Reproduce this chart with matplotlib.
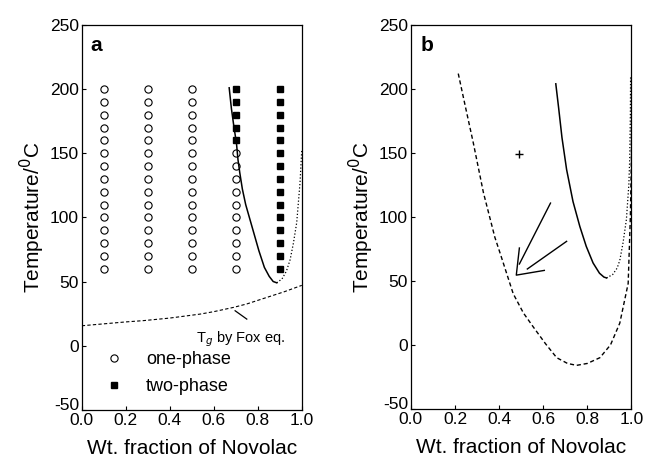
import matplotlib
matplotlib.use("Agg")
import matplotlib.pyplot as plt
import matplotlib.transforms as mtransforms
import numpy as np

plt.rcParams['font.family'] = ['Liberation Sans', 'DejaVu Sans']
plt.rcParams['axes.unicode_minus'] = False

# panel a: cloud point observations
comp_x = [0.1, 0.3, 0.5, 0.7, 0.9]
temps = list(range(60, 210, 10))
# temperatures where each composition was two-phase
two_phase_T = {0.1: [], 0.3: [], 0.5: [], 0.7: [160, 170, 180, 190, 200],
               0.9: list(range(60, 210, 10))}

# binodal (solid) and its dotted continuation, panel a
binod_a_x = [0.670, 0.680, 0.692, 0.703, 0.710, 0.718, 0.730, 0.745, 0.765, 0.785,
             0.805, 0.830, 0.852, 0.870, 0.886]
binod_a_T = [201, 185, 170, 158, 145, 135, 122, 110, 98, 86, 74, 61, 54, 50, 49]
binod_a_dot_x = [0.886, 0.910, 0.930, 0.947, 0.962, 0.977, 0.992, 1.0]
binod_a_dot_T = [49, 52, 58, 67, 80, 96, 127, 153]

# Tg by Fox equation
tg_x = [0.0, 0.1, 0.2, 0.28, 0.4, 0.538, 0.6, 0.689, 0.75, 0.841, 0.92, 1.0]
tg_T = [15.5, 17, 18.5, 19.5, 21.5, 24.6, 26.5, 29.8, 32.5, 37.6, 42, 47]

# panel b: spinodal (dashed)
spin_x = [0.215, 0.250, 0.283, 0.329, 0.381, 0.404, 0.464, 0.510, 0.555, 0.610, 0.661,
          0.710, 0.751, 0.800, 0.857, 0.905, 0.947, 0.985, 0.995, 1.0, 1.0]
spin_T = [212, 184, 158, 119, 84, 72, 40, 25, 14, 1, -10, -14.5, -16, -14.5, -10, 0,
          17, 48, 100, 150, 208]

# panel b: binodal (solid) + dotted continuation
binod_b_x = [0.657, 0.670, 0.685, 0.706, 0.735, 0.766, 0.795, 0.826, 0.855, 0.875, 0.887]
binod_b_T = [204, 185, 162, 137, 112, 92.5, 77, 64, 56, 53, 52.3]
binod_b_dot_x = [0.887, 0.915, 0.935, 0.947, 0.962, 0.977, 0.988, 0.992, 0.995, 0.996]
binod_b_dot_T = [52.3, 55, 60, 66, 80, 98, 125, 145, 180, 210]

fig = plt.figure(figsize=(6.49, 4.62), dpi=100)
ax1 = fig.add_axes([0.126, 0.113, 0.339, 0.833])
ax2 = fig.add_axes([0.633, 0.115, 0.340, 0.831])

for ax in (ax1, ax2):
    ax.set_xlim(0, 1.0)
    ax.set_ylim(-50, 250)
    ax.set_xticks(np.arange(0, 1.01, 0.2))
    ax.set_yticks(range(-50, 251, 50))
    ax.set_xticklabels(['0.0', '0.2', '0.4', '0.6', '0.8', '1.0'])
    ax.tick_params(direction='in', length=3, width=0.8, labelsize=12.5, pad=2)
    ax.set_xlabel('Wt. fraction of Novolac', fontsize=15, labelpad=8)
    ax.set_ylabel('Temperature/$^{0}$C', fontsize=15, labelpad=2)
    for s in ax.spines.values():
        s.set_linewidth(0.9)
    # nudge the bottom y label up a bit so it doesn't sit on top of "0.0"
    lab = ax.yaxis.get_major_ticks()[0].label1
    lab.set_transform(lab.get_transform() +
                      mtransforms.ScaledTranslation(0, 4 / 72, fig.dpi_scale_trans))

# panel a
one_x, one_T, two_x, two_T = [], [], [], []
for x in comp_x:
    for t in temps:
        if t in two_phase_T[x]:
            two_x.append(x); two_T.append(t)
        else:
            one_x.append(x); one_T.append(t)
ax1.plot(one_x, one_T, 'o', mfc='white', mec='black', ms=5.2, mew=0.8, ls='none',
         label='one-phase')
ax1.plot(two_x, two_T, 's', color='black', ms=4.5, ls='none', label='two-phase')
ax1.plot(binod_a_x, binod_a_T, '-', color='black', lw=1.1)
ax1.plot(binod_a_dot_x, binod_a_dot_T, ':', color='black', lw=0.9)
ax1.plot(tg_x, tg_T, '--', color='black', lw=0.8, dashes=(3, 2))
ax1.plot([0.75, 0.697], [20.7, 27.2], '-', color='black', lw=0.9)
ax1.text(0.72, 5, 'T$_g$ by Fox eq.', fontsize=10.5, ha='center', va='center')
ax1.text(0.04, 234, 'a', fontsize=15, fontweight='bold', va='center')
ax1.legend(loc='lower left', bbox_to_anchor=(0.02, 0.0), frameon=False, fontsize=13,
           handletextpad=1.0, handlelength=1.5, borderaxespad=0.4, labelspacing=0.55)

# panel b
ax2.plot(spin_x, spin_T, '--', color='black', lw=1.0, dashes=(3, 2))
ax2.plot(binod_b_x, binod_b_T, '-', color='black', lw=1.1)
ax2.plot(binod_b_dot_x, binod_b_dot_T, ':', color='black', lw=0.9)
ax2.plot([0.492], [149], '+', color='black', ms=6, mew=1.0)
# hand-drawn arrow
ax2.plot([0.633, 0.492], [110.8, 63.2], '-', color='black', lw=1.0)
ax2.plot([0.706, 0.528], [80.9, 59.3], '-', color='black', lw=1.0)
ax2.plot([0.492, 0.478, 0.605], [75.7, 54.5, 58.2], '-', color='black', lw=1.0)
ax2.text(0.045, 234, 'b', fontsize=15, fontweight='bold', va='center')

fig.savefig('out.png', dpi=100)
